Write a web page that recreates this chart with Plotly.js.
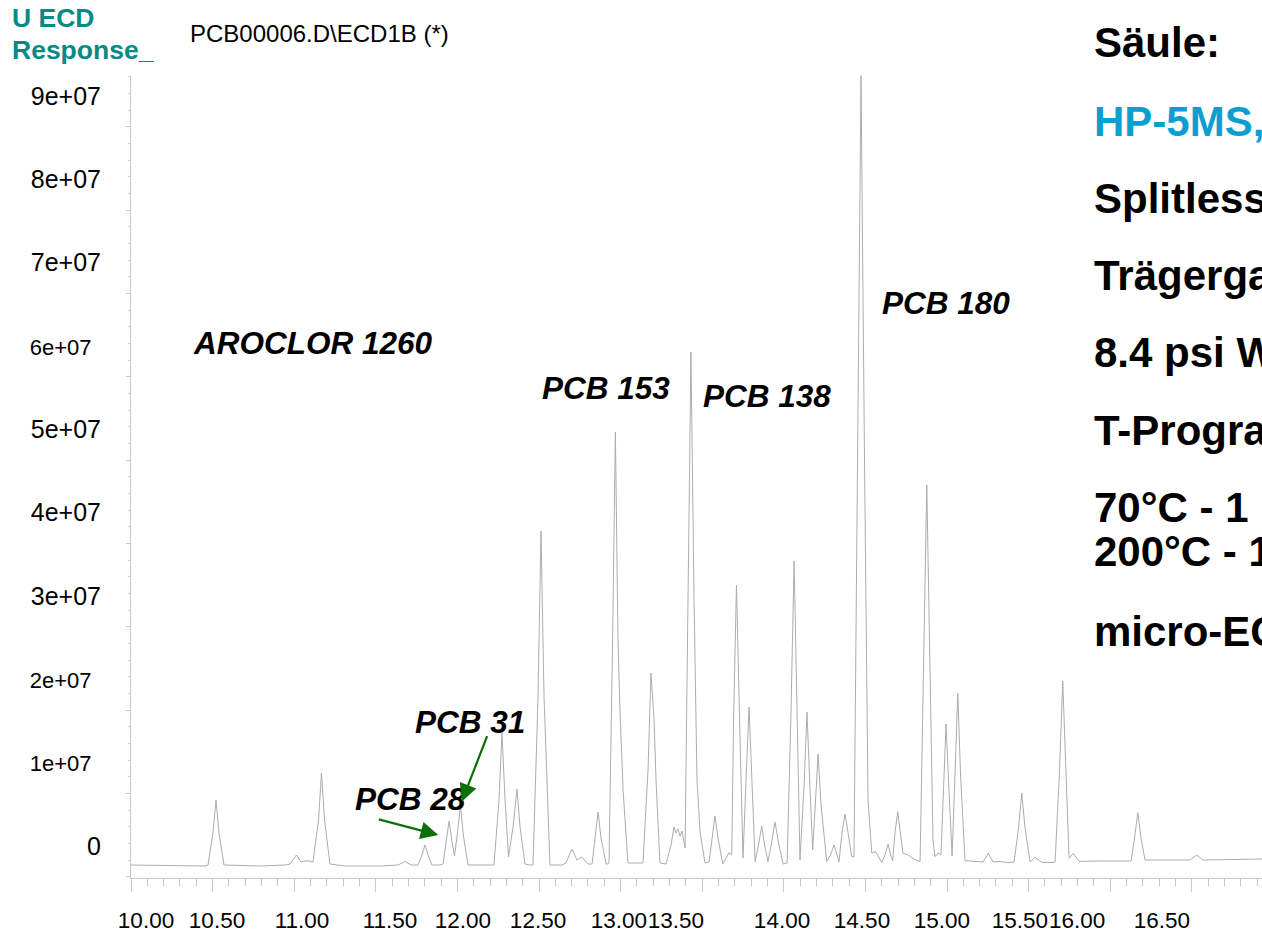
<!DOCTYPE html>
<html>
<head>
<meta charset="utf-8">
<script src="https://cdn.plot.ly/plotly-3.0.1.min.js"></script>
<style>
  html, body { margin: 0; padding: 0; background: #ffffff; overflow: hidden; }
  #chart { width: 1262px; height: 934px; }
</style>
</head>
<body>
<div id="chart"></div>
<script>
// Retention time (min)
const rtMin = [
  10.000, 10.270, 10.453, 10.472, 10.502, 10.521, 10.539, 10.570, 10.790, 10.944,
  10.974, 11.014, 11.042, 11.066, 11.091, 11.115, 11.149, 11.167, 11.186, 11.219,
  11.311, 11.526, 11.636, 11.679, 11.716, 11.759, 11.783, 11.801, 11.820, 11.844,
  11.893, 11.912, 11.930, 11.949, 11.967, 11.982, 11.998, 12.019, 12.037, 12.065,
  12.200, 12.224, 12.255, 12.273, 12.292, 12.313, 12.341, 12.365, 12.384, 12.414,
  12.445, 12.463, 12.494, 12.512, 12.531, 12.567, 12.641, 12.665, 12.702, 12.733,
  12.762, 12.800, 12.825, 12.843, 12.862, 12.880, 12.911, 12.923, 12.929, 12.950,
  12.968, 12.984, 12.996, 13.015, 13.045, 13.137, 13.168, 13.186, 13.205, 13.217,
  13.241, 13.278, 13.309, 13.327, 13.339, 13.352, 13.364, 13.376, 13.395, 13.413,
  13.431, 13.450, 13.468, 13.487, 13.517, 13.542, 13.560, 13.578, 13.597, 13.626,
  13.664, 13.681, 13.692, 13.710, 13.729, 13.750, 13.768, 13.787, 13.805, 13.824,
  13.845, 13.865, 13.882, 13.903, 13.925, 13.946, 13.968, 13.995, 14.020, 14.044,
  14.063, 14.081, 14.099, 14.124, 14.142, 14.161, 14.177, 14.193, 14.210, 14.228,
  14.263, 14.286, 14.308, 14.326, 14.338, 14.357, 14.375, 14.393, 14.416, 14.430,
  14.452, 14.473, 14.495, 14.516, 14.539, 14.563, 14.600, 14.620, 14.639, 14.654,
  14.667, 14.681, 14.698, 14.715, 14.730, 14.761, 14.798, 14.835, 14.856, 14.876,
  14.896, 14.914, 14.926, 14.945, 14.963, 14.979, 14.994, 15.012, 15.031, 15.049,
  15.066, 15.083, 15.110, 15.221, 15.253, 15.282, 15.325, 15.374, 15.411, 15.438,
  15.458, 15.478, 15.509, 15.539, 15.580, 15.643, 15.662, 15.689, 15.709, 15.729,
  15.748, 15.774, 15.809, 15.938, 16.109, 16.128, 16.149, 16.169, 16.189, 16.213,
  16.367, 16.489, 16.530, 16.569, 16.930
];
// ECD response in millions of counts
const responseM = [
  -2.28, -2.40, -2.40, -2.28, 1.56, 5.52, 1.56, -2.28, -2.40, -2.28,
  -2.16, -1.08, -1.92, -1.80, -1.80, -1.92, 3.12, 8.76, 3.12, -2.16,
  -2.40, -2.40, -2.28, -1.86, -2.28, -2.28, -1.08, 0.12, -1.08, -2.28,
  -2.28, -2.16, 0.48, 3.00, 0.48, -1.20, 1.20, 4.80, 1.20, -2.28,
  -2.28, -2.28, 5.52, 13.56, 5.52, -1.32, 2.28, 6.84, 2.28, -2.16,
  -2.28, -2.28, 17.76, 37.80, 17.76, -2.28, -2.28, -2.04, -0.36, -1.68,
  -1.32, -2.16, -2.16, 0.96, 4.08, 0.96, -2.16, -2.16, -1.92, 23.52,
  49.68, 24.72, 16.44, 6.72, -2.04, -2.04, 9.12, 20.76, 15.12, 7.92,
  -2.04, -2.16, 0.12, 2.28, 1.56, 2.04, 1.20, 1.80, -0.24, 29.52,
  59.28, 29.52, 7.92, 1.68, -2.04, -1.92, 0.96, 3.60, 0.96, -2.16,
  -0.80, -1.08, 15.12, 31.32, 15.12, -1.44, 7.68, 16.68, 7.68, -1.88,
  0.12, 2.40, 0.12, -1.88, 0.36, 2.88, 0.36, -2.16, -2.04, 16.08,
  34.20, 16.08, -1.68, 7.20, 16.08, 6.72, -0.48, 4.92, 11.04, 4.92,
  -1.88, -1.08, 0.12, -1.08, -1.88, 1.68, 3.84, 1.68, -1.28, -1.32,
  45.12, 92.44, 45.12, 5.52, -0.84, -0.68, -2.00, -1.08, 0.24, -1.08,
  -1.76, 1.56, 4.12, 1.56, -0.84, -1.08, -1.56, -1.88, 21.12, 43.32,
  21.12, 0.72, -1.28, -0.84, -1.08, 6.72, 14.64, 6.72, -1.20, 8.52,
  18.36, 8.52, -1.76, -1.92, -0.88, -1.92, -1.86, -2.00, -1.92, 2.16,
  6.36, 2.16, -1.92, -1.36, -1.96, -1.98, -1.92, 8.88, 19.80, 8.88,
  -1.48, -0.88, -1.84, -1.80, -1.80, -1.80, 0.96, 4.00, 0.96, -1.68,
  -1.68, -1.68, -1.08, -1.68, -1.56
];

// Axis labels as printed on the chart
const yTickValues = [0, 1e7, 2e7, 3e7, 4e7, 5e7, 6e7, 7e7, 8e7, 9e7];
const yTickLabels = ['0', '1e+07', '2e+07', '3e+07', '4e+07', '5e+07', '6e+07', '7e+07', '8e+07', '9e+07'];
const xTickLabels = ['10.00', '10.50', '11.00', '11.50', '12.00', '12.50', '13.00', '13.50',
                     '14.00', '14.50', '15.00', '15.50', '16.00', '16.50'];
// where each time label is printed along the time axis (min)
const xTickLabelAt = [10.092, 10.527, 11.048, 11.587, 12.034, 12.494, 12.990, 13.339,
                      13.989, 14.479, 14.969, 15.447, 15.797, 16.317];

const peakLabels = ['AROCLOR 1260', 'PCB 153', 'PCB 138', 'PCB 180', 'PCB 31', 'PCB 28'];
const methodLines = ['Säule:', 'HP-5MS,', 'Splitless', 'Trägerga', '8.4 psi W', 'T-Progra',
                     '70°C - 1', '200°C - 1', 'micro-EC'];
const signalName = 'PCB00006.D\\ECD1B (*)';
const yTitleLines = ['U ECD', 'Response_'];

const FONT = '"Liberation Sans", Arial, Helvetica, sans-serif';
// three of the printed y labels are set in a smaller type
const smallY = new Set(['6e+07', '2e+07', '1e+07']);
const yText = yTickLabels.map(s => smallY.has(s)
  ? '<span style="font-size:22px">' + s + '</span><span style="font-size:34px">&nbsp;</span>'
  : s);

const trace = {
  type: 'scatter', mode: 'lines',
  x: rtMin, y: responseM.map(v => v * 1e6),
  line: { color: '#acacac', width: 1 },
  hoverinfo: 'skip', showlegend: false
};
const dummy = { type: 'scatter', mode: 'lines', x: [null], y: [null], xaxis: 'x2', yaxis: 'y2', showlegend: false, hoverinfo: 'skip' };

const yRange = [-3.84e6, 9.252e7];
const xRange = [10, 16.93];

// positions of the free text in plot-fraction coordinates
const peakLabelPos = [[0.1609, 0.6663], [0.420, 0.6102], [0.5623, 0.6002], [0.7206, 0.7161], [0.2997, 0.1943], [0.2467, 0.0984]];
const methodY = [1.0400, 0.9427, 0.8468, 0.7497, 0.6538, 0.5579, 0.4620, 0.4060, 0.3064];

const annotations = [];
peakLabels.forEach((t, i) => annotations.push({
  xref: 'paper', yref: 'paper', x: peakLabelPos[i][0], y: peakLabelPos[i][1],
  text: t, showarrow: false, xanchor: 'center', yanchor: 'middle',
  font: { family: FONT, size: 31.5, color: '#000000', weight: 'bold', style: 'italic' }
}));
methodLines.forEach((t, i) => annotations.push({
  xref: 'paper', yref: 'paper', x: 0.8497, y: methodY[i],
  text: t, showarrow: false, xanchor: 'left', yanchor: 'middle',
  font: { family: FONT, size: 42, color: i === 1 ? '#0a9fd0' : '#000000', weight: 'bold' }
}));
yTitleLines.forEach((t, i) => annotations.push({
  xref: 'paper', yref: 'paper', x: -0.1070, y: i === 0 ? 1.071 : 1.031,
  text: t, showarrow: false, xanchor: 'left', yanchor: 'middle',
  font: { family: FONT, size: 26.5, color: '#068a84', weight: 'bold' }
}));
annotations.push({
  xref: 'paper', yref: 'paper', x: 0.0504, y: 1.0523,
  text: signalName, showarrow: false, xanchor: 'left', yanchor: 'middle',
  font: { family: FONT, size: 24, color: '#000000' }
});
// green arrows
annotations.push({
  xref: 'paper', yref: 'paper', x: 0.2717, y: 0.0535, ax: -61, ay: -16,
  text: '', showarrow: true, arrowhead: 2, arrowsize: 1.6, arrowwidth: 2.2,
  arrowcolor: '#0b700b', standoff: 0
});
annotations.push({
  xref: 'paper', yref: 'paper', x: 0.2924, y: 0.0950, ax: 26, ay: -67,
  text: '', showarrow: true, arrowhead: 2, arrowsize: 1.6, arrowwidth: 2.2,
  arrowcolor: '#0b700b', standoff: 0
});

const layout = {
  width: 1262, height: 934,
  margin: { l: 131, r: 0, t: 75, b: 56, pad: 0 },
  paper_bgcolor: '#ffffff', plot_bgcolor: '#ffffff',
  font: { family: FONT, color: '#000000' },
  showlegend: false,
  xaxis: {
    range: xRange, showgrid: false, zeroline: false, showline: true, linecolor: '#c8c8c8', linewidth: 1,
    tickmode: 'array', tickvals: xTickLabelAt, ticktext: xTickLabels, tickangle: 0,
    ticks: 'outside', ticklen: 22, tickcolor: 'rgba(0,0,0,0)',
    tickfont: { family: FONT, size: 22.5, color: '#000000' }
  },
  xaxis2: {
    range: xRange, overlaying: 'x', anchor: 'y', side: 'bottom', showgrid: false, zeroline: false,
    showline: false, showticklabels: false, ticks: 'outside', tick0: 10, dtick: 0.5, ticklen: 13,
    tickcolor: '#c8c8c8', tickwidth: 1,
    minor: { ticks: 'outside', dtick: 0.1, tick0: 10, ticklen: 7, tickcolor: '#c8c8c8', tickwidth: 1 }
  },
  yaxis: {
    range: yRange, showgrid: false, zeroline: false, showline: true, linecolor: '#c8c8c8', linewidth: 1,
    tickmode: 'array', tickvals: yTickValues, ticktext: yText,
    ticks: 'outside', ticklen: 24, tickcolor: 'rgba(0,0,0,0)',
    tickfont: { family: FONT, size: 25, color: '#000000' }
  },
  yaxis2: {
    range: yRange, overlaying: 'y', anchor: 'x', side: 'left', showgrid: false, zeroline: false,
    showline: false, showticklabels: false, ticks: 'outside', tick0: 6.3e6, dtick: 1e7, ticklen: 4,
    tickcolor: '#c8c8c8', tickwidth: 1,
    minor: { ticks: 'outside', dtick: 2e6, tick0: 6.3e6, ticklen: 2, tickcolor: '#d0d0d0', tickwidth: 1 }
  },
  annotations: annotations
};

Plotly.newPlot('chart', [trace, dummy], layout, { displayModeBar: false, staticPlot: true });
</script>
</body>
</html>
